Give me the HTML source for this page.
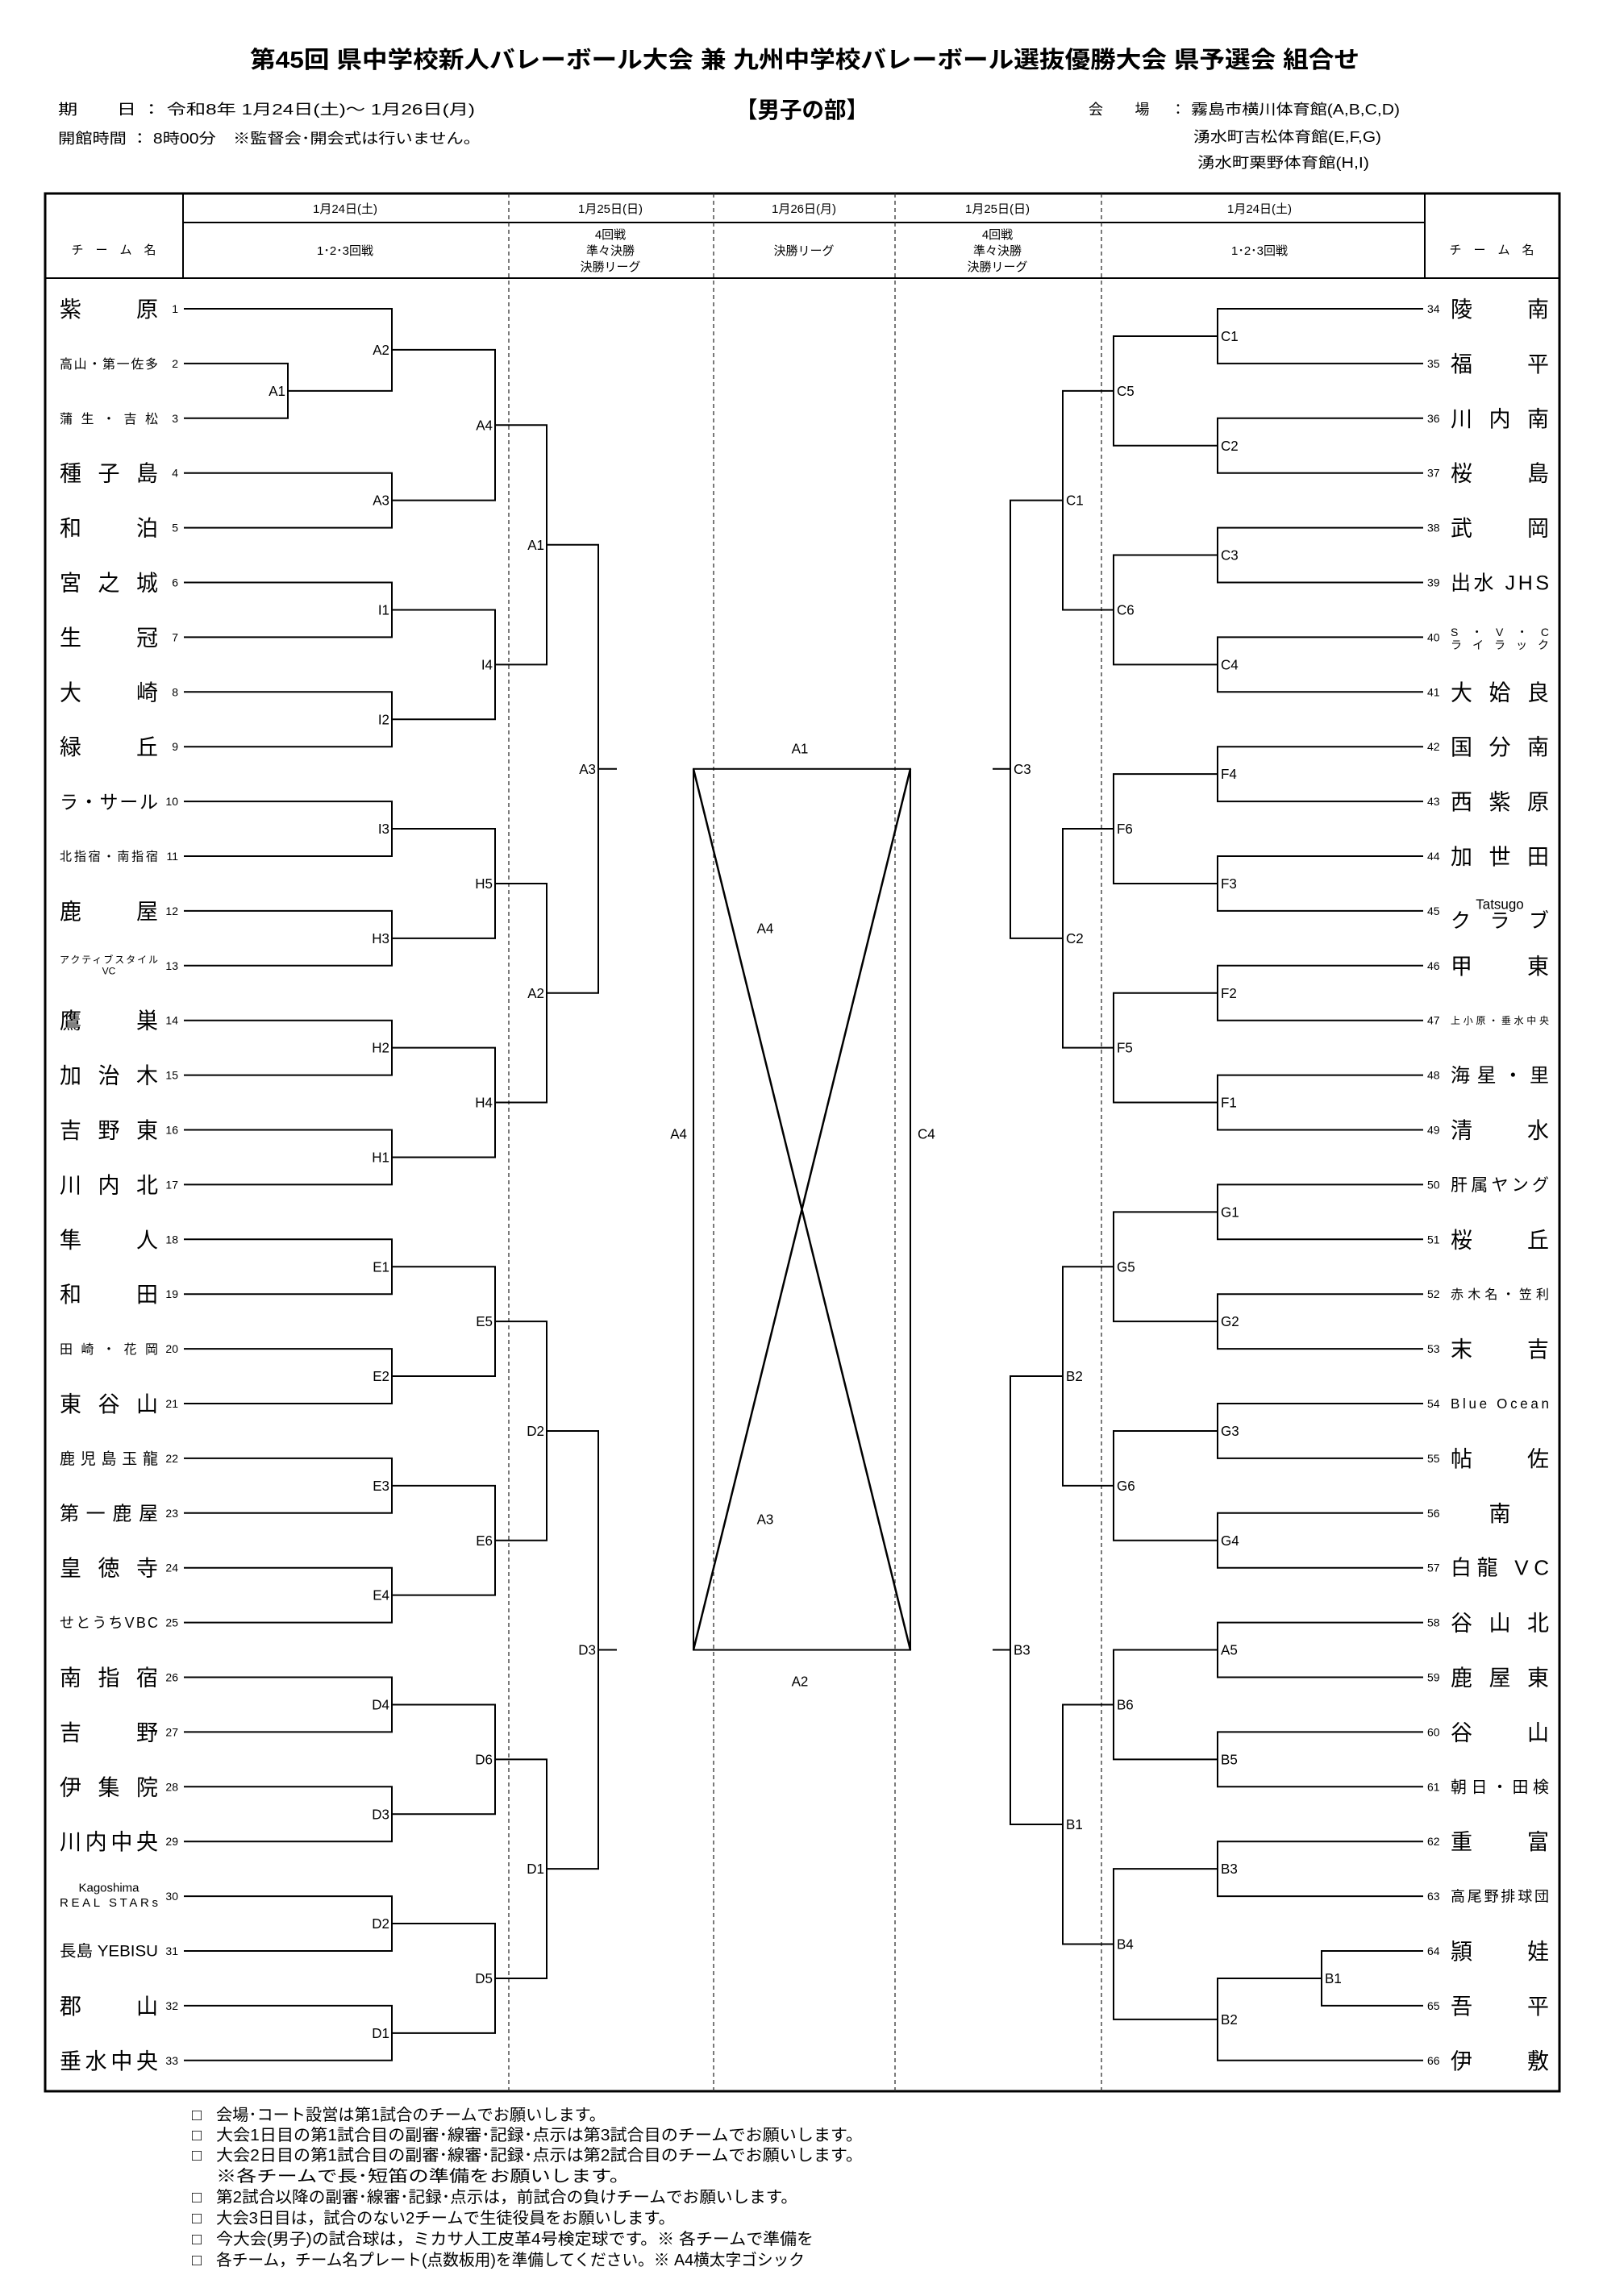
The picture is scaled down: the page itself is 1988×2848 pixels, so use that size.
<!DOCTYPE html>
<html><head><meta charset="utf-8"><style>
html,body{margin:0;padding:0;background:#fff}
svg{display:block}
text{font-family:"Liberation Sans","Noto Sans CJK JP",sans-serif;fill:#000}
.lb{font-size:17px}
.num{font-size:14px}
.big{font-size:27px}
.hd{font-size:15px}
.ft{font-size:20px}
</style></head><body>
<svg width="1988" height="2848" viewBox="0 0 1988 2848" xmlns="http://www.w3.org/2000/svg">
<!-- Title -->
<text x="310" y="84" font-size="29" font-weight="bold" textLength="1376" lengthAdjust="spacingAndGlyphs">第45回 県中学校新人バレーボール大会 兼 九州中学校バレーボール選抜優勝大会 県予選会 組合せ</text>
<text x="72" y="142" font-size="18" textLength="517" lengthAdjust="spacingAndGlyphs">期　　日 ： 令和8年  1月24日(土)～ 1月26日(月)</text>
<text x="72" y="178" font-size="18" textLength="524" lengthAdjust="spacingAndGlyphs">開館時間 ： 8時00分　※監督会･開会式は行いません。</text>
<text x="912" y="146" font-size="28" font-weight="bold" textLength="165" lengthAdjust="spacingAndGlyphs">【男子の部】</text>
<text x="1350" y="142" font-size="18" textLength="120" lengthAdjust="spacing">会　場 ：</text>
<text x="1477" y="142" font-size="18" textLength="259" lengthAdjust="spacingAndGlyphs">霧島市横川体育館(A,B,C,D)</text>
<text x="1480" y="176" font-size="18" textLength="233" lengthAdjust="spacingAndGlyphs">湧水町吉松体育館(E,F,G)</text>
<text x="1485" y="208" font-size="18" textLength="213" lengthAdjust="spacingAndGlyphs">湧水町栗野体育館(H,I)</text>

<!-- Table frame -->
<rect x="56" y="240" width="1878" height="2354" fill="none" stroke="#000" stroke-width="3"/>
<g stroke="#000" stroke-width="2" fill="none">
<path d="M227 240V345M1767 240V345M227 276H1767M56 345H1934"/>
</g>
<g stroke="#333" stroke-width="1.3" stroke-dasharray="5,4" fill="none">
<path d="M631 240V2594M885 240V2594M1110 240V2594M1366 240V2594"/>
</g>
<!-- Header text -->
<g class="hd" text-anchor="middle">
<text x="141" y="315">チ　ー　ム　名</text>
<text x="1850" y="315">チ　ー　ム　名</text>
<text x="428" y="264">1月24日(土)</text>
<text x="757" y="264">1月25日(日)</text>
<text x="997" y="264">1月26日(月)</text>
<text x="1237" y="264">1月25日(日)</text>
<text x="1562" y="264">1月24日(土)</text>
<text x="428" y="316">1･2･3回戦</text>
<text x="1562" y="316">1･2･3回戦</text>
<text x="997" y="316">決勝リーグ</text>
<text x="757" y="296">4回戦</text><text x="757" y="316">準々決勝</text><text x="757" y="336">決勝リーグ</text>
<text x="1237" y="296">4回戦</text><text x="1237" y="316">準々決勝</text><text x="1237" y="336">決勝リーグ</text>
</g>

<g transform="matrix(1 0 0 1.00444 0 2.32)">
<!-- Bracket lines -->
<g stroke="#000" stroke-width="2" fill="none">
<path d="M228 379H486V480.4H357"/>
<path d="M228 446.6H357V514.2H228"/>
<path d="M486 429.7H614V615.6H486"/>
<path d="M228 581.8H486V649.4H228"/>
<path d="M228 717H486V784.6H228"/>
<path d="M228 852.2H486V919.8H228"/>
<path d="M486 750.8H614V886H486"/>
<path d="M614 522.65H678V818.4H614"/>
<path d="M228 987.4H486V1055H228"/>
<path d="M228 1122.6H486V1190.2H228"/>
<path d="M486 1021.2H614V1156.4H486"/>
<path d="M228 1257.8H486V1325.4H228"/>
<path d="M228 1393H486V1460.6H228"/>
<path d="M486 1291.6H614V1426.8H486"/>
<path d="M614 1088.8H678V1359.2H614"/>
<path d="M678 670.5H742V1224H678"/>
<path d="M742 947.25H765"/>
<path d="M228 1528.2H486V1595.8H228"/>
<path d="M228 1663.4H486V1731H228"/>
<path d="M486 1562H614V1697.2H486"/>
<path d="M228 1798.6H486V1866.2H228"/>
<path d="M228 1933.8H486V2001.4H228"/>
<path d="M486 1832.4H614V1967.6H486"/>
<path d="M614 1629.6H678V1900H614"/>
<path d="M228 2069H486V2136.6H228"/>
<path d="M228 2204.2H486V2271.8H228"/>
<path d="M486 2102.8H614V2238H486"/>
<path d="M228 2339.4H486V2407H228"/>
<path d="M228 2474.6H486V2542.2H228"/>
<path d="M486 2373.2H614V2508.4H486"/>
<path d="M614 2170.4H678V2440.8H614"/>
<path d="M678 1764.8H742V2305.6H678"/>
<path d="M742 2035.2H765"/>
<path d="M1765 379H1510V446.6H1765"/>
<path d="M1765 514.2H1510V581.8H1765"/>
<path d="M1510 412.8H1381V548H1510"/>
<path d="M1765 649.4H1510V717H1765"/>
<path d="M1765 784.6H1510V852.2H1765"/>
<path d="M1510 683.2H1381V818.4H1510"/>
<path d="M1381 480.4H1318V750.8H1381"/>
<path d="M1765 919.8H1510V987.4H1765"/>
<path d="M1765 1055H1510V1122.6H1765"/>
<path d="M1510 953.6H1381V1088.8H1510"/>
<path d="M1765 1190.2H1510V1257.8H1765"/>
<path d="M1765 1325.4H1510V1393H1765"/>
<path d="M1510 1224H1381V1359.2H1510"/>
<path d="M1381 1021.2H1318V1291.6H1381"/>
<path d="M1318 615.6H1253V1156.4H1318"/>
<path d="M1253 947.25H1231"/>
<path d="M1765 1460.6H1510V1528.2H1765"/>
<path d="M1765 1595.8H1510V1663.4H1765"/>
<path d="M1510 1494.4H1381V1629.6H1510"/>
<path d="M1765 1731H1510V1798.6H1765"/>
<path d="M1765 1866.2H1510V1933.8H1765"/>
<path d="M1510 1764.8H1381V1900H1510"/>
<path d="M1381 1562H1318V1832.4H1381"/>
<path d="M1765 2001.4H1510V2069H1765"/>
<path d="M1765 2136.6H1510V2204.2H1765"/>
<path d="M1510 2035.2H1381V2170.4H1510"/>
<path d="M1765 2271.8H1510V2339.4H1765"/>
<path d="M1765 2407H1639V2474.6H1765"/>
<path d="M1639 2440.8H1510V2542.2H1765"/>
<path d="M1510 2305.6H1381V2491.5H1510"/>
<path d="M1381 2102.8H1318V2398.55H1381"/>
<path d="M1318 1697.2H1253V2250.7H1318"/>
<path d="M1253 2035.2H1231"/>
<rect x="860" y="947.25" width="269" height="1087.95"/>
<path d="M860 947.25L1129 2035.2M1129 947.25L860 2035.2" stroke-width="2.5"/>
</g>

<g class="lb" text-anchor="end">
<text x="354" y="486.4">A1</text>
<text x="483" y="435.7">A2</text><text x="483" y="621.6">A3</text><text x="483" y="756.8">I1</text><text x="483" y="892">I2</text>
<text x="483" y="1027.2">I3</text><text x="483" y="1162.4">H3</text><text x="483" y="1297.6">H2</text><text x="483" y="1432.8">H1</text>
<text x="483" y="1568">E1</text><text x="483" y="1703.2">E2</text><text x="483" y="1838.4">E3</text><text x="483" y="1973.6">E4</text>
<text x="483" y="2108.8">D4</text><text x="483" y="2244">D3</text><text x="483" y="2379.2">D2</text><text x="483" y="2514.4">D1</text>
<text x="611" y="528.65">A4</text><text x="611" y="824.4">I4</text><text x="611" y="1094.8">H5</text><text x="611" y="1365.2">H4</text>
<text x="611" y="1635.6">E5</text><text x="611" y="1906">E6</text><text x="611" y="2176.4">D6</text><text x="611" y="2446.8">D5</text>
<text x="675" y="676.5">A1</text><text x="675" y="1230">A2</text><text x="675" y="1770.8">D2</text><text x="675" y="2311.6">D1</text>
<text x="739" y="953.25">A3</text><text x="739" y="2041.2">D3</text>
<text x="852" y="1404">A4</text>
</g>
<g class="lb">
<text x="1514" y="418.8">C1</text><text x="1514" y="554">C2</text><text x="1514" y="689.2">C3</text><text x="1514" y="824.4">C4</text>
<text x="1514" y="959.6">F4</text><text x="1514" y="1094.8">F3</text><text x="1514" y="1230">F2</text><text x="1514" y="1365.2">F1</text>
<text x="1514" y="1500.4">G1</text><text x="1514" y="1635.6">G2</text><text x="1514" y="1770.8">G3</text><text x="1514" y="1906">G4</text>
<text x="1514" y="2041.2">A5</text><text x="1514" y="2176.4">B5</text><text x="1514" y="2311.6">B3</text><text x="1514" y="2497.5">B2</text>
<text x="1643" y="2446.8">B1</text>
<text x="1385" y="486.4">C5</text><text x="1385" y="756.8">C6</text><text x="1385" y="1027.2">F6</text><text x="1385" y="1297.6">F5</text>
<text x="1385" y="1568">G5</text><text x="1385" y="1838.4">G6</text><text x="1385" y="2108.8">B6</text><text x="1385" y="2404.5">B4</text>
<text x="1322" y="621.6">C1</text><text x="1322" y="1162.4">C2</text><text x="1322" y="1703.2">B2</text><text x="1322" y="2256.7">B1</text>
<text x="1257" y="953.25">C3</text><text x="1257" y="2041.2">B3</text>
<text x="1138" y="1404">C4</text>
</g>
<g class="lb" text-anchor="middle">
<text x="992" y="928">A1</text>
<text x="992" y="2080">A2</text>
<text x="949" y="1150">A4</text>
<text x="949" y="1880">A3</text>
</g>

<g class="num" text-anchor="end">
<text x="221" y="384">1</text><text x="221" y="451.6">2</text><text x="221" y="519.2">3</text><text x="221" y="586.8">4</text>
<text x="221" y="654.4">5</text><text x="221" y="722">6</text><text x="221" y="789.6">7</text><text x="221" y="857.2">8</text>
<text x="221" y="924.8">9</text><text x="221" y="992.4">10</text><text x="221" y="1060">11</text><text x="221" y="1127.6">12</text>
<text x="221" y="1195.2">13</text><text x="221" y="1262.8">14</text><text x="221" y="1330.4">15</text><text x="221" y="1398">16</text>
<text x="221" y="1465.6">17</text><text x="221" y="1533.2">18</text><text x="221" y="1600.8">19</text><text x="221" y="1668.4">20</text>
<text x="221" y="1736">21</text><text x="221" y="1803.6">22</text><text x="221" y="1871.2">23</text><text x="221" y="1938.8">24</text>
<text x="221" y="2006.4">25</text><text x="221" y="2074">26</text><text x="221" y="2141.6">27</text><text x="221" y="2209.2">28</text>
<text x="221" y="2276.8">29</text><text x="221" y="2344.4">30</text><text x="221" y="2412">31</text><text x="221" y="2479.6">32</text>
<text x="221" y="2547.2">33</text>
</g>
<g class="num">
<text x="1770" y="384">34</text><text x="1770" y="451.6">35</text><text x="1770" y="519.2">36</text><text x="1770" y="586.8">37</text>
<text x="1770" y="654.4">38</text><text x="1770" y="722">39</text><text x="1770" y="789.6">40</text><text x="1770" y="857.2">41</text>
<text x="1770" y="924.8">42</text><text x="1770" y="992.4">43</text><text x="1770" y="1060">44</text><text x="1770" y="1127.6">45</text>
<text x="1770" y="1195.2">46</text><text x="1770" y="1262.8">47</text><text x="1770" y="1330.4">48</text><text x="1770" y="1398">49</text>
<text x="1770" y="1465.6">50</text><text x="1770" y="1533.2">51</text><text x="1770" y="1600.8">52</text><text x="1770" y="1668.4">53</text>
<text x="1770" y="1736">54</text><text x="1770" y="1803.6">55</text><text x="1770" y="1871.2">56</text><text x="1770" y="1938.8">57</text>
<text x="1770" y="2006.4">58</text><text x="1770" y="2074">59</text><text x="1770" y="2141.6">60</text><text x="1770" y="2209.2">61</text>
<text x="1770" y="2276.8">62</text><text x="1770" y="2344.4">63</text><text x="1770" y="2412">64</text><text x="1770" y="2479.6">65</text>
<text x="1770" y="2547.2">66</text>
</g>

<g>
<text class="big" x="74" y="389" textLength="122" lengthAdjust="spacing">紫原</text>
<text x="74" y="452.6" font-size="16" textLength="122" lengthAdjust="spacing">高山・第一佐多</text>
<text x="74" y="520.2" font-size="16" textLength="122" lengthAdjust="spacing">蒲生・吉松</text>
<text class="big" x="74" y="591.8" textLength="122" lengthAdjust="spacing">種子島</text>
<text class="big" x="74" y="659.4" textLength="122" lengthAdjust="spacing">和泊</text>
<text class="big" x="74" y="727" textLength="122" lengthAdjust="spacing">宮之城</text>
<text class="big" x="74" y="794.6" textLength="122" lengthAdjust="spacing">生冠</text>
<text class="big" x="74" y="862.2" textLength="122" lengthAdjust="spacing">大崎</text>
<text class="big" x="74" y="929.8" textLength="122" lengthAdjust="spacing">緑丘</text>
<text x="74" y="996.4" font-size="23" textLength="122" lengthAdjust="spacing">ラ・サール</text>
<text x="74" y="1060.5" font-size="15" textLength="122" lengthAdjust="spacing">北指宿・南指宿</text>
<text class="big" x="74" y="1132.6" textLength="122" lengthAdjust="spacing">鹿屋</text>
<text x="74" y="1187" font-size="12" textLength="122" lengthAdjust="spacing">アクティブスタイル</text>
<text x="135" y="1201" font-size="12" text-anchor="middle">VC</text>
<text class="big" x="74" y="1267.8" textLength="122" lengthAdjust="spacing">鷹巣</text>
<text class="big" x="74" y="1335.4" textLength="122" lengthAdjust="spacing">加治木</text>
<text class="big" x="74" y="1403" textLength="122" lengthAdjust="spacing">吉野東</text>
<text class="big" x="74" y="1470.6" textLength="122" lengthAdjust="spacing">川内北</text>
<text class="big" x="74" y="1538.2" textLength="122" lengthAdjust="spacing">隼人</text>
<text class="big" x="74" y="1605.8" textLength="122" lengthAdjust="spacing">和田</text>
<text x="74" y="1669.4" font-size="16" textLength="122" lengthAdjust="spacing">田崎・花岡</text>
<text class="big" x="74" y="1741" textLength="122" lengthAdjust="spacing">東谷山</text>
<text x="74" y="1805.6" font-size="19" textLength="122" lengthAdjust="spacing">鹿児島玉龍</text>
<text x="74" y="1874.7" font-size="24" textLength="122" lengthAdjust="spacing">第一鹿屋</text>
<text class="big" x="74" y="1943.8" textLength="122" lengthAdjust="spacing">皇徳寺</text>
<text x="74" y="2007.8" font-size="18" textLength="122" lengthAdjust="spacing">せとうちVBC</text>
<text class="big" x="74" y="2079" textLength="122" lengthAdjust="spacing">南指宿</text>
<text class="big" x="74" y="2146.6" textLength="122" lengthAdjust="spacing">吉野</text>
<text class="big" x="74" y="2214.2" textLength="122" lengthAdjust="spacing">伊集院</text>
<text class="big" x="74" y="2281.8" textLength="122" lengthAdjust="spacing">川内中央</text>
<text x="135" y="2334" font-size="15" text-anchor="middle">Kagoshima</text>
<text x="74" y="2352" font-size="15" textLength="122" lengthAdjust="spacing">REAL STARs</text>
<text x="74" y="2413.5" font-size="19" textLength="122" lengthAdjust="spacingAndGlyphs">長島 YEBISU</text>
<text class="big" x="74" y="2484.6" textLength="122" lengthAdjust="spacing">郡山</text>
<text class="big" x="74" y="2552.2" textLength="122" lengthAdjust="spacing">垂水中央</text>
</g>

<g>
<text class="big" x="1799" y="389" textLength="122" lengthAdjust="spacing">陵南</text>
<text class="big" x="1799" y="456.6" textLength="122" lengthAdjust="spacing">福平</text>
<text class="big" x="1799" y="524.2" textLength="122" lengthAdjust="spacing">川内南</text>
<text class="big" x="1799" y="591.8" textLength="122" lengthAdjust="spacing">桜島</text>
<text class="big" x="1799" y="659.4" textLength="122" lengthAdjust="spacing">武岡</text>
<text x="1799" y="726" font-size="25" textLength="122" lengthAdjust="spacing">出水 JHS</text>
<text x="1799" y="783" font-size="14" textLength="122" lengthAdjust="spacing">S・V・C</text>
<text x="1799" y="799" font-size="14" textLength="122" lengthAdjust="spacing">ライラック</text>
<text class="big" x="1799" y="862.2" textLength="122" lengthAdjust="spacing">大姶良</text>
<text class="big" x="1799" y="929.8" textLength="122" lengthAdjust="spacing">国分南</text>
<text class="big" x="1799" y="997.4" textLength="122" lengthAdjust="spacing">西紫原</text>
<text class="big" x="1799" y="1065" textLength="122" lengthAdjust="spacing">加世田</text>
<text x="1860" y="1120" font-size="17" text-anchor="middle">Tatsugo</text>
<text x="1799" y="1143" font-size="25" textLength="122" lengthAdjust="spacing">クラブ</text>
<text class="big" x="1799" y="1200.2" textLength="122" lengthAdjust="spacing">甲東</text>
<text x="1799" y="1262" font-size="12" textLength="122" lengthAdjust="spacing">上小原・垂水中央</text>
<text x="1799" y="1334" font-size="24" textLength="122" lengthAdjust="spacing">海星・里</text>
<text class="big" x="1799" y="1403" textLength="122" lengthAdjust="spacing">清水</text>
<text x="1799" y="1468" font-size="21" textLength="122" lengthAdjust="spacing">肝属ヤング</text>
<text class="big" x="1799" y="1538.2" textLength="122" lengthAdjust="spacing">桜丘</text>
<text x="1799" y="1601.5" font-size="16" textLength="122" lengthAdjust="spacing">赤木名・笠利</text>
<text class="big" x="1799" y="1673.4" textLength="122" lengthAdjust="spacing">末吉</text>
<text x="1799" y="1737" font-size="17" textLength="122" lengthAdjust="spacing">Blue  Ocean</text>
<text class="big" x="1799" y="1808.6" textLength="122" lengthAdjust="spacing">帖佐</text>
<text class="big" x="1860" y="1876.2" text-anchor="middle">南</text>
<text x="1799" y="1942.8" font-size="26" textLength="122" lengthAdjust="spacing">白龍 VC</text>
<text class="big" x="1799" y="2011.4" textLength="122" lengthAdjust="spacing">谷山北</text>
<text class="big" x="1799" y="2079" textLength="122" lengthAdjust="spacing">鹿屋東</text>
<text class="big" x="1799" y="2146.6" textLength="122" lengthAdjust="spacing">谷山</text>
<text x="1799" y="2211.2" font-size="20" textLength="122" lengthAdjust="spacing">朝日・田検</text>
<text class="big" x="1799" y="2281.8" textLength="122" lengthAdjust="spacing">重富</text>
<text x="1799" y="2345.9" font-size="18" textLength="122" lengthAdjust="spacing">高尾野排球団</text>
<text class="big" x="1799" y="2417" textLength="122" lengthAdjust="spacing">頴娃</text>
<text class="big" x="1799" y="2484.6" textLength="122" lengthAdjust="spacing">吾平</text>
<text class="big" x="1799" y="2552.2" textLength="122" lengthAdjust="spacing">伊敷</text>
</g>
</g>

<!-- Footer notes -->
<g class="ft">
<text x="238" y="2630">□</text><text x="268" y="2630" textLength="483" lengthAdjust="spacingAndGlyphs">会場･コート設営は第1試合のチームでお願いします。</text>
<text x="238" y="2655">□</text><text x="268" y="2655" textLength="802" lengthAdjust="spacingAndGlyphs">大会1日目の第1試合目の副審･線審･記録･点示は第3試合目のチームでお願いします。</text>
<text x="238" y="2680">□</text><text x="268" y="2680" textLength="802" lengthAdjust="spacingAndGlyphs">大会2日目の第1試合目の副審･線審･記録･点示は第2試合目のチームでお願いします。</text>
<text x="268" y="2706" textLength="513" lengthAdjust="spacingAndGlyphs">※各チームで長･短笛の準備をお願いします。</text>
<text x="238" y="2732">□</text><text x="268" y="2732" textLength="721" lengthAdjust="spacingAndGlyphs">第2試合以降の副審･線審･記録･点示は，前試合の負けチームでお願いします。</text>
<text x="238" y="2758">□</text><text x="268" y="2758" textLength="569" lengthAdjust="spacingAndGlyphs">大会3日目は，試合のない2チームで生徒役員をお願いします。</text>
<text x="238" y="2784">□</text><text x="268" y="2784" textLength="741" lengthAdjust="spacingAndGlyphs">今大会(男子)の試合球は，ミカサ人工皮革4号検定球です。※ 各チームで準備を</text>
<text x="238" y="2810">□</text><text x="268" y="2810" textLength="730" lengthAdjust="spacingAndGlyphs">各チーム，チーム名プレート(点数板用)を準備してください。※ A4横太字ゴシック</text>
</g>
</svg>
</body></html>
